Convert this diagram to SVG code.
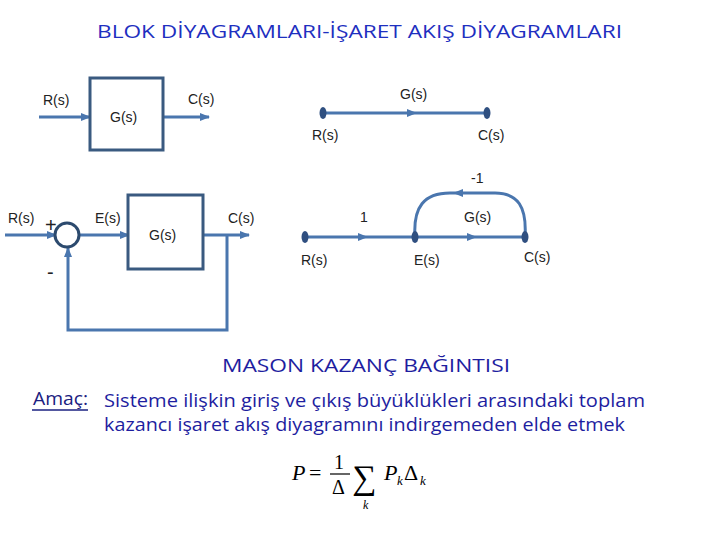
<svg xmlns="http://www.w3.org/2000/svg" width="720" height="540" viewBox="0 0 720 540">
<style>
.ln{stroke:#4A76AE;stroke-width:3;fill:none}
.bx{stroke:#3A5A80;stroke-width:3;fill:#fff}
.nd{fill:#2F4F80}
.ah{fill:#4A76AE}
.lb{font-family:"Liberation Sans",Arial,sans-serif;font-size:14px;fill:#222}
.sg{font-family:"Liberation Sans",Arial,sans-serif;font-size:20px;fill:#222}
.ti{font-family:"Open Sans","Liberation Sans",sans-serif;font-size:18px;fill:#1E2FC0}
.tx{font-family:"Open Sans","Liberation Sans",sans-serif;font-size:18px;fill:#1E1EA0}
.mf{font-family:"Liberation Serif","Times New Roman",serif;fill:#000}
</style>
<defs>
<marker id="arr" markerWidth="10" markerHeight="8" refX="9" refY="4" orient="auto" markerUnits="userSpaceOnUse">
<path d="M0,0 L10,4 L0,8 Z" fill="#4A76AE"/>
</marker>
</defs>
<rect width="720" height="540" fill="#fff"/>
<text class="ti" x="97" y="38" textLength="525" lengthAdjust="spacingAndGlyphs">BLOK DİYAGRAMLARI-İŞARET AKIŞ DİYAGRAMLARI</text>

<g id="connectors">
<line class="ln" x1="39" y1="117" x2="90" y2="117" marker-end="url(#arr)"/>
<line class="ln" x1="163" y1="117" x2="209" y2="117" marker-end="url(#arr)"/>
<line class="ln" x1="323" y1="113" x2="487" y2="113"/>
<polygon class="ah" points="407,109 417,113 407,117"/>
<line class="ln" x1="5" y1="235" x2="56" y2="235" marker-end="url(#arr)"/>
<line class="ln" x1="79" y1="235" x2="129" y2="235" marker-end="url(#arr)"/>
<line class="ln" x1="203" y1="235" x2="249" y2="235" marker-end="url(#arr)"/>
<polyline class="ln" points="227,235 227,330 68,330 68,248" marker-end="url(#arr)"/>
<line class="ln" x1="305" y1="237" x2="525" y2="237"/>
<polygon class="ah" points="358,233 368,237 358,241"/>
<polygon class="ah" points="467,233 477,237 467,241"/>
<path class="ln" d="M415,237 C413,207 424,193 450,193 L495,193 C518,193 527,207 525,237"/>
<polygon class="ah" points="463,189 453,193 463,197"/>
</g>

<g id="block1">
<rect class="bx" x="90" y="78" width="73" height="72"/>
<text class="lb" x="110" y="122">G(s)</text>
<text class="lb" x="43" y="105">R(s)</text>
<text class="lb" x="188" y="104">C(s)</text>
</g>

<g id="flow1">
<ellipse class="nd" cx="323" cy="113" rx="3.5" ry="6"/>
<ellipse class="nd" cx="487" cy="113" rx="3.5" ry="6"/>
<text class="lb" x="400" y="99">G(s)</text>
<text class="lb" x="312" y="140">R(s)</text>
<text class="lb" x="478" y="140">C(s)</text>
</g>

<g id="sum">
<circle cx="67" cy="235" r="12" fill="#fff" stroke="#2C4A6E" stroke-width="3"/>
<text class="lb" x="8" y="223">R(s)</text>
<text class="sg" x="45" y="232">+</text>
<text class="sg" x="47" y="279">-</text>
<text class="lb" x="95" y="223">E(s)</text>
</g>

<g id="block2">
<rect class="bx" x="128" y="195" width="75" height="74"/>
<text class="lb" x="149" y="240">G(s)</text>
<text class="lb" x="228" y="223">C(s)</text>
</g>

<g id="flow2">
<ellipse class="nd" cx="305" cy="237" rx="3.5" ry="6"/>
<ellipse class="nd" cx="415" cy="237" rx="3.5" ry="6"/>
<ellipse class="nd" cx="525" cy="237" rx="3.5" ry="6"/>
<text class="lb" x="360" y="222">1</text>
<text class="lb" x="464" y="222">G(s)</text>
<text class="lb" x="471" y="183">-1</text>
<text class="lb" x="301" y="265">R(s)</text>
<text class="lb" x="414" y="265">E(s)</text>
<text class="lb" x="524" y="262">C(s)</text>
</g>

<g id="mason">
<text class="tx" x="222" y="372" textLength="288" lengthAdjust="spacingAndGlyphs">MASON KAZANÇ BAĞINTISI</text>
<text class="tx" x="33" y="405" textLength="55" lengthAdjust="spacingAndGlyphs" style="fill:#1A2080">Amaç:</text>
<line x1="32" y1="410" x2="88" y2="410" stroke="#1A2080" stroke-width="1.5"/>
<text class="tx" x="104" y="407" textLength="541" lengthAdjust="spacingAndGlyphs">Sisteme ilişkin giriş ve çıkış büyüklükleri arasındaki toplam</text>
<text class="tx" x="104" y="431" textLength="521" lengthAdjust="spacingAndGlyphs">kazancı işaret akış diyagramını indirgemeden elde etmek</text>
</g>

<g id="formula">
<text class="mf" x="292" y="480" font-size="22" font-style="italic">P</text>
<text class="mf" x="309" y="480" font-size="22">=</text>
<text class="mf" x="334" y="469" font-size="20">1</text>
<line x1="330" y1="474" x2="350" y2="474" stroke="#000" stroke-width="1.2"/>
<text class="mf" x="332" y="494" font-size="20">Δ</text>
<text class="mf" x="352" y="489" font-size="34">∑</text>
<text class="mf" x="363" y="509" font-size="12" font-style="italic">k</text>
<text class="mf" x="384" y="480" font-size="22" font-style="italic">P</text>
<text class="mf" x="397" y="485" font-size="13" font-style="italic">k</text>
<text class="mf" x="404" y="480" font-size="22">Δ</text>
<text class="mf" x="420" y="485" font-size="13" font-style="italic">k</text>
</g>
</svg>
